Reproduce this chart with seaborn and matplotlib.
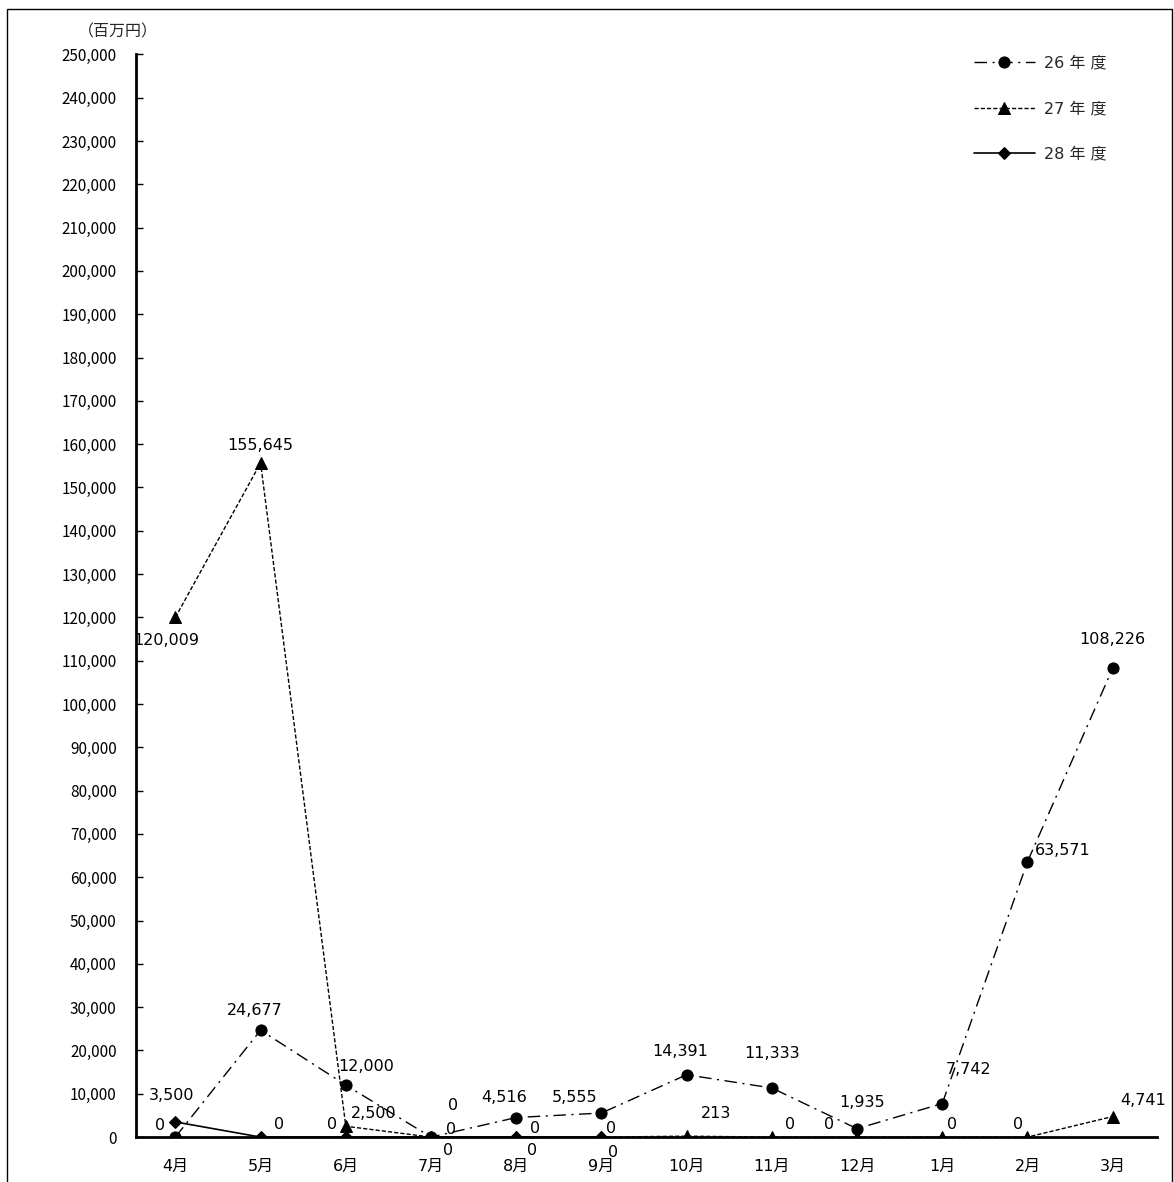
import matplotlib
matplotlib.use("Agg")
import matplotlib.pyplot as plt
import seaborn as sns
import numpy as np
from matplotlib.patches import Rectangle
from matplotlib.ticker import MultipleLocator, FuncFormatter

# data
months = ["4月", "5月", "6月", "7月", "8月", "9月", "10月", "11月", "12月", "1月", "2月", "3月"]
fy26 = [0, 24677, 12000, 0, 4516, 5555, 14391, 11333, 1935, 7742, 63571, 108226]
fy27 = [120009, 155645, 2500, 0, 0, 0, 213, 0, 0, 0, 0, 4741]
fy28 = [3500, 0, 0, 0, 0, 0]
series_names = ["26 年 度", "27 年 度", "28 年 度"]

# label offsets in pixels (dx, dy) for each point
off26 = [(-15, 12), (-6, 20), (20, 19), (22, 32), (-12, 20), (-27, 16),
         (-6, 23), (0, 35), (5, 26), (26, 34), (35, 11), (0, 29)]
off27 = [(-9, -23), (0, 18), (28, 13), (20, 8), (19, 9), (10, 9),
         (29, 23), (18, 13), (-28, 13), (10, 13), (-9, 13), (30, 16)]
off28 = [(-4, 26), (18, 13), (-14, 13), (17, -13), (16, -13), (12, -15)]

sns.set_theme(style="white")
plt.rcParams['font.family'] = ['Noto Sans CJK JP', 'DejaVu Sans']
wide = ['DejaVu Sans', 'Noto Sans CJK JP']

fig = plt.figure(figsize=(11.74, 11.82), dpi=100, facecolor="white")
ax = fig.add_axes([0.116, 0.038, 0.8695, 0.916])

x = np.arange(len(months))
sns.lineplot(x=x, y=fy26, ax=ax, color="black", marker="o", markersize=8,
             linestyle=(0, (9, 4, 1.5, 4)), linewidth=1, label=series_names[0],
             markeredgecolor="black")
sns.lineplot(x=x, y=fy27, ax=ax, color="black", marker="^", markersize=8,
             linestyle=(0, (3, 1.5)), linewidth=1, label=series_names[1],
             markeredgecolor="black")
sns.lineplot(x=x[:len(fy28)], y=fy28, ax=ax, color="black", marker="D", markersize=6,
             linestyle="-", linewidth=1.2, label=series_names[2],
             markeredgecolor="black")

for vals, offs in ((fy26, off26), (fy27, off27), (fy28, off28)):
    for i, (v, (dx, dy)) in enumerate(zip(vals, offs)):
        ax.annotate(f"{v:,}", (x[i], v), xytext=(dx, dy), textcoords="offset pixels",
                    ha="center", va="center", fontsize=11.5, color="black",
                    family=wide)

ax.set_xlim(-0.46, 11.52)
ax.set_ylim(0, 250000)
ax.yaxis.set_major_locator(MultipleLocator(10000))
ax.yaxis.set_major_formatter(FuncFormatter(lambda v, p: f"{int(v):,}"))
ax.set_xticks(x)
ax.set_xticklabels(months, family=wide)
ax.tick_params(axis="y", direction="in", length=5, width=1, left=True, pad=14,
               labelsize=11, colors="black")
ax.tick_params(axis="x", length=0, pad=16, labelsize=11.5, colors="black")
ax.set_xlabel("")
ax.set_ylabel("")
for s in ("top", "right"):
    ax.spines[s].set_visible(False)
for s in ("left", "bottom"):
    ax.spines[s].set_color("black")
    ax.spines[s].set_linewidth(2)
ax.grid(False)

ax.text(-0.018, 1.021, "（百万円）", transform=ax.transAxes, ha="center", va="center",
        fontsize=11.5)

leg = ax.legend(loc="upper right", bbox_to_anchor=(0.965, 1.012), frameon=False,
                handlelength=3.8, labelspacing=1.9, handletextpad=0.6,
                prop={"family": wide, "size": 11.5})

fig.patches.append(Rectangle((7 / 1174, -0.01), 1165 / 1174, 1 - 9 / 1182 + 0.01,
                             transform=fig.transFigure, fill=False,
                             edgecolor="black", linewidth=1))

fig.savefig("out.png", dpi=100, facecolor="white")
